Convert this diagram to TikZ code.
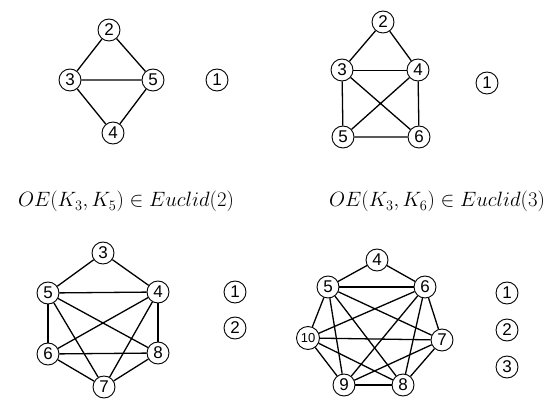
\documentclass[tikz,border=0pt]{standalone}
\usepackage{amsmath,amssymb}
\usepackage{fontspec}
\newfontfamily\nodefont{Liberation Sans}
\usepackage{tikz}

\begin{document}
\begin{tikzpicture}[
  x=1pt, y=-1pt,
  vtx/.style={draw, circle, line width=0.9pt, inner sep=0pt,
              minimum size=22pt, font=\nodefont\fontsize{17}{17}\selectfont},
  edge/.style={line width=1.3pt},
  thin edge/.style={line width=0.8pt},
  lbl/.style={anchor=base, font=\huge}]
\useasboundingbox (0,0) rectangle (551,403);
% top left
\node[vtx] (a2) at (109,30)  {2};
\node[vtx] (a3) at (70,80)   {3};
\node[vtx] (a5) at (153,80)  {5};
\node[vtx] (a4) at (113,133) {4};
\node[vtx] (a1) at (217,80)  {1};
\draw[edge] (a2)--(a3) (a2)--(a5) (a3)--(a5) (a3)--(a4) (a5)--(a4);
% top right
\node[vtx] (b2) at (383,22)  {2};
\node[vtx] (b3) at (342,70)  {3};
\node[vtx] (b4) at (418,70)  {4};
\node[vtx] (b5) at (343,137) {5};
\node[vtx] (b6) at (419,137) {6};
\node[vtx] (b1) at (487,83)  {1};
\draw[edge] (b2)--(b3) (b2)--(b4) (b3)--(b5) (b3)--(b6)
            (b4)--(b5) (b4)--(b6) (b5)--(b6);
\draw[thin edge] (b3)--(b4);
% labels
\node[lbl] (la) at (126,207) {$OE(K_3,K_5)\in Euclid(2)$};
\node[lbl] (lb) at (437,207) {$OE(K_3,K_6)\in Euclid(3)$};
% bottom left
\node[vtx] (c3) at (103,253) {3};
\node[vtx] (c5) at (48,293)  {5};
\node[vtx] (c4) at (158,292) {4};
\node[vtx] (c6) at (48,354)  {6};
\node[vtx] (c8) at (158,353) {8};
\node[vtx] (c7) at (104,387) {7};
\node[vtx] (c1) at (235,292) {1};
\node[vtx] (c2) at (235,328) {2};
\foreach \u/\v in {3/5,3/4,5/4,5/6,5/8,5/7,4/6,4/7,4/8,6/8,6/7,8/7}
  \draw[edge] (c\u)--(c\v);
% bottom right
\node[vtx] (d4)  at (377,260) {4};
\node[vtx] (d5)  at (328,287) {5};
\node[vtx] (d6)  at (425,287) {6};
\node[vtx, minimum size=23pt, font=\nodefont\fontsize{13}{13}\selectfont] (d10) at (308,338) {10};
\node[vtx] (d7)  at (442,340) {7};
\node[vtx] (d9)  at (344,385) {9};
\node[vtx] (d8)  at (403,385) {8};
\node[vtx] (d1)  at (507,293) {1};
\node[vtx] (d2)  at (507,330) {2};
\node[vtx] (d3)  at (507,367) {3};
\foreach \u/\v in {4/5,4/6,5/6,5/10,5/9,5/8,5/7,6/10,6/9,6/8,6/7,
                   10/7,10/9,10/8,7/9,7/8,9/8}
  \draw[edge] (d\u)--(d\v);
\end{tikzpicture}
\end{document}
